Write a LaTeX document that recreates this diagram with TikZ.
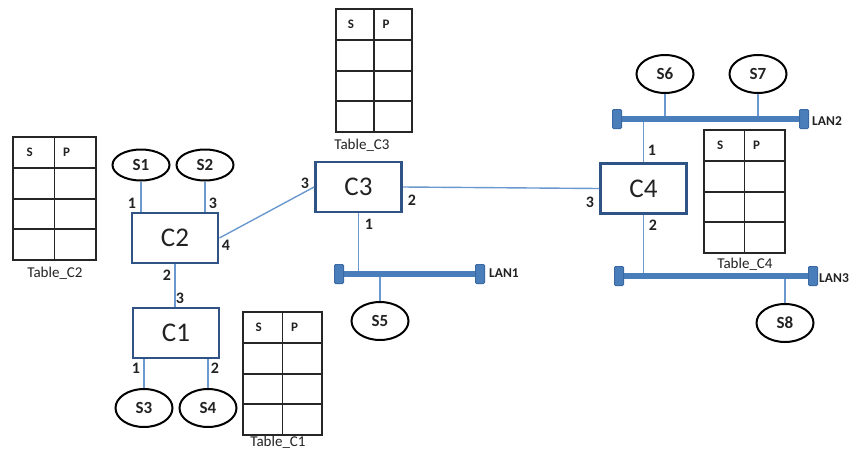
\documentclass[tikz,border=0pt]{standalone}
\usepackage{fontspec}
\setmainfont{Carlito}
\usetikzlibrary{shapes.geometric}
\definecolor{boxblue}{HTML}{2F5385}
\definecolor{linkblue}{HTML}{6A98CF}
\definecolor{lanblue}{HTML}{4A7EBB}
\definecolor{lancap}{HTML}{3B6AA3}
\definecolor{txt}{HTML}{222222}
\tikzset{
  sw/.style={draw=boxblue, line width=2.8pt, minimum width=86pt, minimum height=50pt, inner sep=0pt, font=\fontsize{27}{27}\selectfont, text=txt},
  host/.style={draw=black, ellipse, line width=2pt, minimum width=57pt, minimum height=34pt, inner sep=0pt, font=\fontsize{17}{17}\selectfont\bfseries, text=txt},
  link/.style={draw=linkblue, line width=1.4pt},
  port/.style={font=\fontsize{16}{16}\selectfont\bfseries, text=txt, inner sep=0pt},
  lanbar/.style={draw=lanblue, line width=5.5pt},
  lanend/.style={draw=lancap, fill=lanblue, line width=1pt, minimum width=9pt, minimum height=19pt, inner sep=0pt, rounded corners=1pt},
  lanlbl/.style={font=\fontsize{13.5}{13.5}\selectfont\bfseries, text=txt, anchor=west, inner sep=0pt},
  tab/.style={draw=black!85, line width=1.7pt},
  tabhead/.style={font=\fontsize{13}{13}\selectfont\bfseries, text=txt, inner sep=0pt},
  tablbl/.style={font=\fontsize{15}{15}\selectfont, text=txt, inner sep=0pt}
}
% #1 name, #2 x, #3 y, #4 width, #5 label text, #6 label x, #7 label dy
\newcommand\SPtable[7]{%
  \draw[tab] (#2,#3) rectangle ++(#4,123);
  \draw[tab] ({#2+#4/2},#3) -- ++(0,123);
  \foreach \r in {31,62,92} {\draw[tab] (#2,{#3+\r}) -- ++(#4,0);}
  \node[tabhead] (#1s) at ({#2+#4/4-4},{#3+15}) {S};
  \node[tabhead] (#1p) at ({#2+#4/2+12},{#3+15}) {P};
  \node[tablbl] (#1l) at (#6,{#3+#7}) {#5};
}
\begin{document}
\begin{tikzpicture}[x=1pt,y=-1pt]
\useasboundingbox (0,0) rectangle (864,450);

% tables
\SPtable{tc2}{13}{137}{83}{Table\_C2}{55}{136}
\SPtable{tc3}{336}{9}{76}{Table\_C3}{362}{136}
\SPtable{tc1}{243}{312}{79}{Table\_C1}{278}{130}
\SPtable{tc4}{704}{130}{81}{Table\_C4}{745}{134}

% switches
\node[sw] (C2) at (175,238) {C2};
\node[sw] (C1) at (176,333) {C1};
\node[sw] (C3) at (358.5,187) {C3};
\node[sw] (C4) at (643.5,188.5) {C4};

% hosts
\node[host, minimum height=31pt] (S1) at (141,165) {S1};
\node[host, minimum height=31pt] (S2) at (205,165) {S2};
\node[host, minimum height=38pt] (S3) at (144,408) {S3};
\node[host, minimum height=38pt] (S4) at (208,408) {S4};
\node[host, minimum height=38pt] (S5) at (380,321) {S5};
\node[host, minimum height=38pt] (S6) at (665,74) {S6};
\node[host, minimum height=38pt] (S7) at (758,74) {S7};
\node[host, minimum height=38pt] (S8) at (785,323) {S8};

% LAN bars
\coordinate (l1a) at (339,274); \coordinate (l1b) at (480,274);
\coordinate (l2a) at (617,119); \coordinate (l2b) at (804,119);
\coordinate (l3a) at (619,276); \coordinate (l3b) at (813,276);

% links
\draw[link] (S1.south) -- (S1.south |- C2.north);
\draw[link] (S2.south) -- (S2.south |- C2.north);
\draw[link] (C2.east) -- (C3.west);
\draw[link] (C2.south) -- (C2.south |- C1.north);
\draw[link] (S3.north) -- (S3.north |- C1.south);
\draw[link] (S4.north) -- (S4.north |- C1.south);
\draw[link] (C3.east) -- (C4.west);
\draw[link] (C3.south) -- (C3.south |- l1a);
\draw[link] (S5.north) -- (S5.north |- l1a);
\draw[link] (C4.north) -- (C4.north |- l2a);
\draw[link] (C4.south) -- (C4.south |- l3a);
\draw[link] (S6.south) -- (S6.south |- l2a);
\draw[link] (S7.south) -- (S7.south |- l2a);
\draw[link] (S8.north) -- (S8.north |- l3a);

\draw[lanbar] (l1a) -- (l1b);
\draw[lanbar] (l2a) -- (l2b);
\draw[lanbar] (l3a) -- (l3b);
\node[lanend] (l1ca) at (l1a) {};
\node[lanend] (l1cb) at (l1b) {};
\node[lanend] (l2ca) at (l2a) {};
\node[lanend] (l2cb) at (l2b) {};
\node[lanend] (l3ca) at (l3a) {};
\node[lanend] (l3cb) at (l3b) {};
\node[lanlbl] (lan1) at (489,273) {LAN1};
\node[lanlbl] (lan2) at (812,121) {LAN2};
\node[lanlbl] (lan3) at (819,278) {LAN3};

% port numbers
\node[port] (p1) at (132,203) {1};
\node[port] (p2) at (213,203) {3};
\node[port] (p3) at (226,245) {4};
\node[port] (p4) at (305,183) {3};
\node[port] (p5) at (167,275) {2};
\node[port] (p6) at (180,298) {3};
\node[port] (p7) at (136,368) {1};
\node[port] (p8) at (215,368) {2};
\node[port] (p9) at (412,200) {2};
\node[port] (p10) at (369,224) {1};
\node[port] (p11) at (590,202) {3};
\node[port] (p12) at (652,150) {1};
\node[port] (p13) at (653,225) {2};
\end{tikzpicture}
\end{document}
